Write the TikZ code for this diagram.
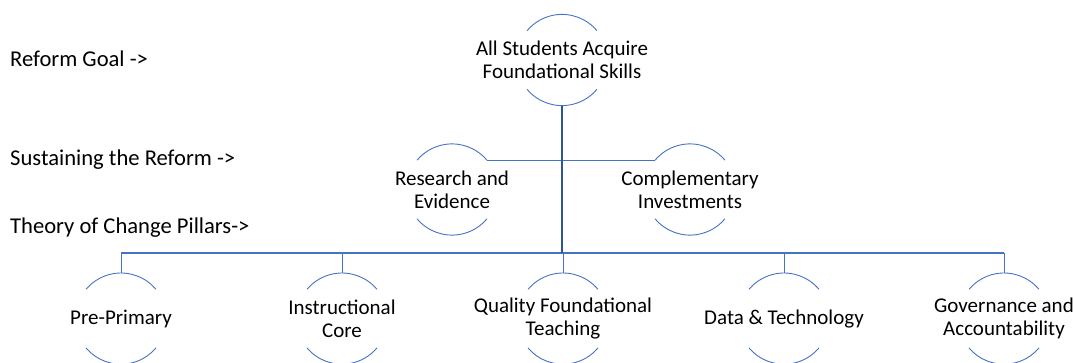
\documentclass[tikz,border=0pt]{standalone}
\usepackage{fontspec}
\setmainfont{Carlito}
\definecolor{lineblue}{HTML}{4472C4}
\definecolor{trunkblue}{HTML}{2F5597}
\tikzset{
  lbl/.style={anchor=west, inner sep=0pt, font=\fontsize{22.6}{25}\selectfont},
  txt/.style={align=center, inner sep=0pt, font=\fontsize{21}{23}\selectfont},
  arcline/.style={draw=lineblue, line width=0.9pt},
  conn/.style={draw=lineblue, line width=1pt},
  mainline/.style={draw=lineblue, line width=1.4pt},
  trunk/.style={draw=trunkblue, line width=2pt}
}
\newcommand{\halfcircles}[1]{%
  \draw[arcline] ([shift={(40:45.6pt)}]#1.center) arc[start angle=40, end angle=140, radius=45.6pt];
  \draw[arcline] ([shift={(220:45.6pt)}]#1.center) arc[start angle=220, end angle=320, radius=45.6pt];
}
\begin{document}
\begin{tikzpicture}[x=1pt, y=-1pt]
\useasboundingbox (0,0) rectangle (1073,362);
% left labels
\node[lbl] (l1) at (10,59) {Reform Goal ->};
\node[lbl] (l2) at (10,160) {Sustaining the Reform ->};
\node[lbl] (l3) at (10,228) {Theory of Change Pillars->};
% nodes
\node[txt] (goal) at (562,60) {All Students Acquire\\Foundational Skills};
\node[txt] (res) at (452,189.5) {Research and\\Evidence};
\node[txt] (comp) at (690,189.5) {Complementary\\Investments};
\node[txt] (pre) at (121,318.6) {Pre-Primary};
\node[txt] (ins) at (342,318.6) {Instructional\\Core};
\node[txt] (qft) at (563,318.6) {Quality Foundational\\Teaching};
\node[txt] (dat) at (784,318.6) {Data \& Technology};
\node[txt] (gov) at (1004,318.6) {Governance and\\Accountability};
\foreach \n in {goal,res,comp,pre,ins,qft,dat,gov} {\halfcircles{\n}}
% connection points
\coordinate (goalB) at ([yshift=-45.6pt]goal.center);
\coordinate (hub) at (562,253);
\foreach \n in {pre,ins,qft,dat,gov} {\coordinate (\n T) at ([yshift=45.6pt]\n.center);}
% connectors
\draw[conn] ([shift={(40:45.6pt)}]res.center) -- ([shift={(140:45.6pt)}]comp.center);
\draw[mainline] (preT |- hub) -- (govT |- hub);
\foreach \n in {pre,ins,qft,dat,gov} {\draw[conn] (\n T |- hub) -- (\n T);}
\draw[trunk] (goalB) -- (hub);
\end{tikzpicture}
\end{document}
